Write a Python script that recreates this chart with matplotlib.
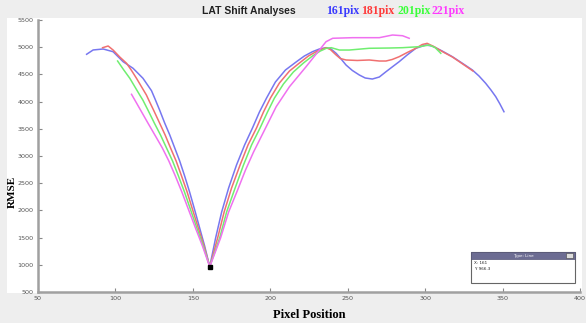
import matplotlib
matplotlib.use("Agg")
import matplotlib.pyplot as plt
from matplotlib.patches import Rectangle

# ---------------- data ----------------
x_161 = [81.4, 85.6, 92.1, 98.5, 105.0, 111.4, 117.8, 123.3, 125.4, 128.6, 131.8, 135.1, 138.3,
         141.5, 144.7, 147.9, 151.2, 154.4, 157.6, 160.9,
         164.7, 168.6, 173.1, 178.2, 183.4, 188.5, 193.0, 197.6, 203.3, 209.8, 216.9, 222.0,
         227.2, 231.7, 236.0, 238.8, 242.5, 245.2, 248.9, 253.0, 257.5, 261.3, 265.9, 270.4,
         274.7, 278.7, 283.2, 288.4, 294.0, 300.4, 304.5, 311.0, 317.6, 323.8, 330.5, 334.8,
         339.1, 342.5, 345.6, 348.3, 350.9]
y_161 = [4870, 4949, 4967, 4917, 4733, 4612, 4428, 4200, 4060, 3840, 3607, 3386, 3147,
         2908, 2632, 2338, 2007, 1676, 1346, 965,
         1493, 1971, 2412, 2835, 3202, 3515, 3809, 4066, 4360, 4581, 4733, 4838,
         4917, 4967, 4991, 4976, 4888, 4801, 4673, 4572, 4489, 4434, 4415, 4452,
         4549, 4636, 4733, 4857, 4980, 5040, 5022, 4930, 4825, 4709, 4581, 4470,
         4336, 4213, 4090, 3956, 3814]

x_181 = [91.7, 95.3, 98.5, 102.8, 107.2, 110.4, 113.6, 120.0, 121.5, 124.9, 128.5, 132.1, 135.6,
         139.2, 142.7, 146.3, 149.9, 153.5, 157.2, 160.9,
         166.0, 170.2, 175.0, 180.5, 185.6, 191.1, 195.6, 200.1, 205.9, 212.4, 218.8, 224.6,
         230.4, 236.0, 238.8, 242.5, 245.2, 248.9, 256.2, 263.9, 270.4, 274.7, 278.7, 283.2,
         288.4, 294.0, 298.1, 301.3, 305.8, 311.0, 317.6, 323.8, 330.9]
y_181 = [4991, 5022, 4948, 4820, 4704, 4572, 4428, 4121, 4029, 3827, 3607, 3386, 3147,
         2908, 2632, 2338, 2007, 1676, 1346, 965,
         1493, 1971, 2412, 2835, 3202, 3515, 3809, 4066, 4342, 4562, 4709, 4838,
         4930, 4991, 4957, 4857, 4792, 4765, 4756, 4765, 4746, 4746, 4774, 4825,
         4902, 4980, 5049, 5071, 5009, 4921, 4820, 4700, 4562]

x_201 = [101.4, 105.4, 109.3, 115.7, 117.7, 121.3, 125.1, 129.1, 133.0, 136.9, 140.7, 144.6,
         148.6, 152.6, 156.7, 160.9,
         167.3, 171.8, 177.3, 182.7, 187.9, 193.4, 198.2, 202.7, 208.5, 214.9, 221.4, 227.2,
         232.3, 236.2, 239.4, 244.6, 251.0, 263.9, 276.8, 285.4, 296.1, 302.6, 306.4, 310.1]
y_201 = [4746, 4581, 4428, 4121, 4029, 3827, 3607, 3386, 3147, 2908, 2632, 2338,
         2007, 1676, 1346, 965,
         1493, 1971, 2412, 2835, 3202, 3515, 3809, 4066, 4324, 4544, 4709, 4838,
         4930, 4980, 4991, 4948, 4948, 4980, 4985, 4991, 5009, 5040, 4994, 4888]

x_221 = [110.4, 113.6, 116.5, 121.1, 126.2, 130.3, 134.5, 138.7, 142.9, 147.3, 151.7, 156.2, 160.9,
         167.9, 173.1, 178.9, 184.0, 189.2, 196.3, 203.8, 212.4, 223.1, 231.7, 236.0, 240.3,
         253.2, 270.4, 278.9, 285.4, 289.7]
y_221 = [4134, 3975, 3830, 3600, 3350, 3147, 2908, 2632, 2338, 2007, 1676, 1346, 965,
         1493, 1971, 2375, 2743, 3074, 3478, 3906, 4274, 4641, 4948, 5101, 5164,
         5175, 5175, 5224, 5211, 5164]

series_labels = ["161pix", "181pix", "201pix", "221pix"]
line_colors = ["#7777f0", "#f07070", "#70ee70", "#f070f0"]
label_colors = ["#3a3aff", "#ff3a3a", "#3aff3a", "#ff3aff"]

tip_x, tip_y = 161, 966.3
x_ticks = [50, 100, 150, 200, 250, 300, 350, 400]
y_ticks = [500, 1000, 1500, 2000, 2500, 3000, 3500, 4000, 4500, 5000, 5500]

# ---------------- figure ----------------
W, H = 586, 323
fig = plt.figure(figsize=(W / 100, H / 100), dpi=100, facecolor="#eeeeee")

def fx(px):
    return px / W

def fy(py):
    return 1 - py / H

# white panel behind the axes
fig.patches.append(Rectangle((fx(7), fy(293)), fx(582) - fx(7), fy(18) - fy(293),
                             transform=fig.transFigure, facecolor="white", edgecolor="none",
                             zorder=-10))

ax = fig.add_axes([fx(38), fy(292), fx(580) - fx(38), fy(20) - fy(292)])
ax.set_facecolor("white")
ax.set_zorder(1)

for xs, ys, c in zip([x_161, x_181, x_201, x_221], [y_161, y_181, y_201, y_221], line_colors):
    ax.plot(xs, ys, color=c, lw=1.1, solid_joinstyle="round")

ax.plot([tip_x], [tip_y], marker="s", color="black", ms=3.2, zorder=5)

ax.set_xlim(50, 400)
ax.set_ylim(500, 5500)
ax.set_xticks(x_ticks)
ax.set_yticks(y_ticks)
ax.set_xticklabels([str(v) for v in x_ticks])
ax.set_yticklabels([str(v) for v in y_ticks])
for s in ["top", "right"]:
    ax.spines[s].set_visible(False)
for s in ["left", "bottom"]:
    ax.spines[s].set_color("#a0a0a0")
    ax.spines[s].set_linewidth(1.8)
ax.tick_params(direction="in", length=3, width=0.8, color="#888888",
               labelsize=4.6, labelcolor="#555555", pad=3)

serif = ["Liberation Serif", "DejaVu Serif"]
ax.set_xlabel("Pixel Position", family=serif, fontweight="bold", fontsize=9, labelpad=6)
fig.text(fx(12), fy(192), "RMSE", family=serif, fontweight="bold", fontsize=8,
         rotation=90, ha="center", va="center")

# title + coloured series labels
fig.text(fx(249), fy(11), "LAT Shift Analyses", family=["Liberation Sans", "DejaVu Sans"],
         fontweight="bold", fontsize=7.5, ha="center", va="center", color="#222222")
label_x = [326, 361, 397, 432]
for lx, txt, c in zip(label_x, series_labels, label_colors):
    fig.text(fx(lx), fy(11), txt, family=serif, fontweight="bold", fontsize=8.5,
             ha="left", va="center", color=c)

# data tip box (drawn above the axes)
tip_ax = fig.add_axes([0, 0, 1, 1], facecolor="none")
tip_ax.set_zorder(5)
tip_ax.set_xlim(0, W)
tip_ax.set_ylim(H, 0)
tip_ax.axis("off")
bx0, bx1, by0, by1 = 471, 575, 252, 283
tip_ax.add_patch(Rectangle((bx0, by0), bx1 - bx0, by1 - by0, facecolor="white",
                           edgecolor="#666666", lw=0.8))
tip_ax.add_patch(Rectangle((bx0, by0), bx1 - bx0, 7, facecolor="#6c6c92",
                           edgecolor="#555577", lw=0.5))
tip_ax.add_patch(Rectangle((566, 253), 7, 5, facecolor="#dddddd", edgecolor="#444444", lw=0.4))
tip_ax.text(523, 255.5, "Type: Line", fontsize=3, color="white", ha="center", va="center")
tip_ax.text(474, 263.5, f"X: {tip_x}", fontsize=3, color="#222222", ha="left", va="center")
tip_ax.text(474, 269, f"Y: {tip_y}", fontsize=3, color="#222222", ha="left", va="center")

fig.savefig("out.png", dpi=100, facecolor=fig.get_facecolor())
